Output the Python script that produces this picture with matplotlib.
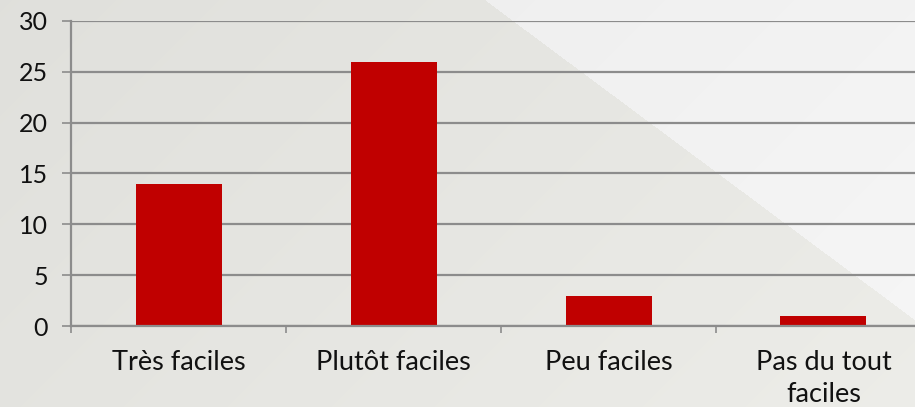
import numpy as np
import matplotlib
matplotlib.use("Agg")
import matplotlib.pyplot as plt

categories = ["Très faciles", "Plutôt faciles", "Peu faciles", "Pas du tout\nfaciles"]
values = [14, 26, 3, 1]
yticks = [0, 5, 10, 15, 20, 25, 30]

W, H = 915, 407
DPI = 100
plt.rcParams['font.family'] = ['Lato', 'DejaVu Sans']

fig = plt.figure(figsize=(W / DPI, H / DPI), dpi=DPI)

# background: grey with lighter triangle in the upper right
bg = fig.add_axes([0, 0, 1, 1], zorder=-10)
yy, xx = np.mgrid[0:H, 0:W]
t = (xx + yy) / (W + H)
grey = np.stack([0.878 + 0.05 * t, 0.878 + 0.05 * t, 0.862 + 0.05 * t], axis=-1)
light = np.stack([0.925 + 0.04 * t, 0.925 + 0.04 * t, 0.925 + 0.04 * t], axis=-1)
mask = (xx - 485) > yy * (430 / 320)
img = np.where(mask[..., None], light, grey)
bg.imshow(img, extent=[0, W, H, 0], aspect='auto', interpolation='bilinear')
bg.set_xlim(0, W)
bg.set_ylim(H, 0)
bg.axis('off')

left, right, top, bottom = 71, 931, 21, 326
ax = fig.add_axes([left / W, 1 - bottom / H, (right - left) / W, (bottom - top) / H])
ax.set_facecolor('none')
x = np.arange(len(categories))
ax.bar(x, values, width=0.4, color='#c00000', zorder=3)
ax.set_xlim(-0.5, len(categories) - 0.5)
ax.set_ylim(0, 30)
ax.set_yticks(yticks)
ax.set_yticklabels([str(v) for v in yticks])
ax.set_xticks(x)
ax.set_xticklabels(categories, linespacing=1.38)
ax.set_xticks(np.arange(len(categories) + 1) - 0.5, minor=True)

gc = '#8c8c8c'
ax.yaxis.grid(True, color=gc, linewidth=1.6, zorder=1)
ax.set_axisbelow(True)
for s in ['top', 'right']:
    ax.spines[s].set_visible(False)
for s in ['left', 'bottom']:
    ax.spines[s].set_color(gc)
    ax.spines[s].set_linewidth(1.6)
    ax.spines[s].set_zorder(4)

ax.tick_params(axis='y', which='major', direction='out', length=6.5, width=1.2, color=gc,
               labelsize=18, pad=10, labelcolor='#111111')
ax.tick_params(axis='x', which='major', length=0, labelsize=19.5, pad=17, labelcolor='#111111')
ax.tick_params(axis='x', which='minor', direction='out', length=5, width=1.2, color=gc)

fig.savefig('out.png', dpi=DPI)
